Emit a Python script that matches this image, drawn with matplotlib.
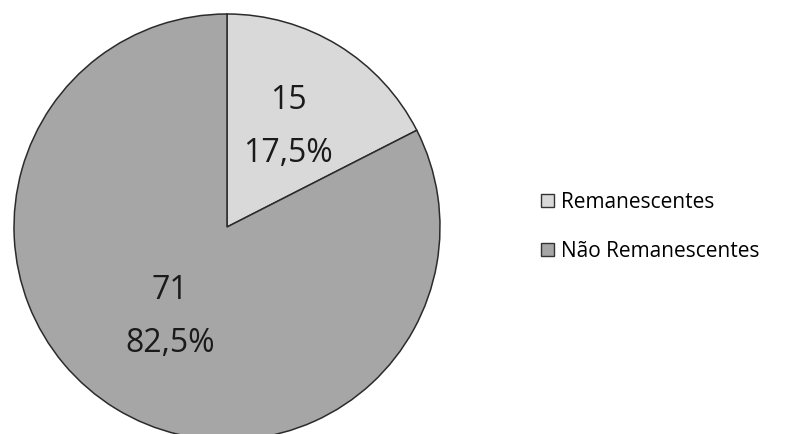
import numpy as np
import matplotlib.pyplot as plt
from matplotlib.patches import Patch

# counts and shares per group
categories = ["Remanescentes", "Não Remanescentes"]
counts = [15, 71]
shares = [17.5, 82.5]
colors = ["#d9d9d9", "#a6a6a6"]

W, H = 787, 434
fig = plt.figure(figsize=(W / 100, H / 100), dpi=100)
ax = fig.add_axes([0, 0, 1, 1])

cx, cy, r = 227, H - 227, 213
wedges, _ = ax.pie(shares, colors=colors, startangle=90, counterclock=False,
                   center=(cx, cy), radius=r,
                   wedgeprops=dict(edgecolor="#2b2b2b", linewidth=1.1))

# value + percent inside each slice
nudge = [0, -1]
dist = [0.55, 0.5]
for w, n, p, d, k in zip(wedges, counts, shares, nudge, dist):
    ang = np.deg2rad((w.theta1 + w.theta2) / 2 + d)
    x = cx + k * r * np.cos(ang)
    y = cy + k * r * np.sin(ang)
    txt = f"{n}\n{p:.1f}%".replace(".", ",")
    ax.text(x, y, txt, ha="center", va="center", fontsize=23,
            family="Open Sans", color="#1a1a1a", linespacing=1.8)

handles = [Patch(facecolor=c, edgecolor="#333333", linewidth=1.0) for c in colors]
leg = ax.legend(handles, categories, loc="center left",
                bbox_to_anchor=(541 / W, 1 - 227 / H), frameon=False,
                prop={"family": "Open Sans", "size": 15},
                handlelength=0.6, handleheight=0.6, handletextpad=0.35,
                labelspacing=1.35, borderpad=0, borderaxespad=0)

ax.set_xlim(0, W)
ax.set_ylim(0, H)
ax.set_aspect("equal")
ax.axis("off")

fig.savefig("out.png", dpi=100, facecolor="white")
